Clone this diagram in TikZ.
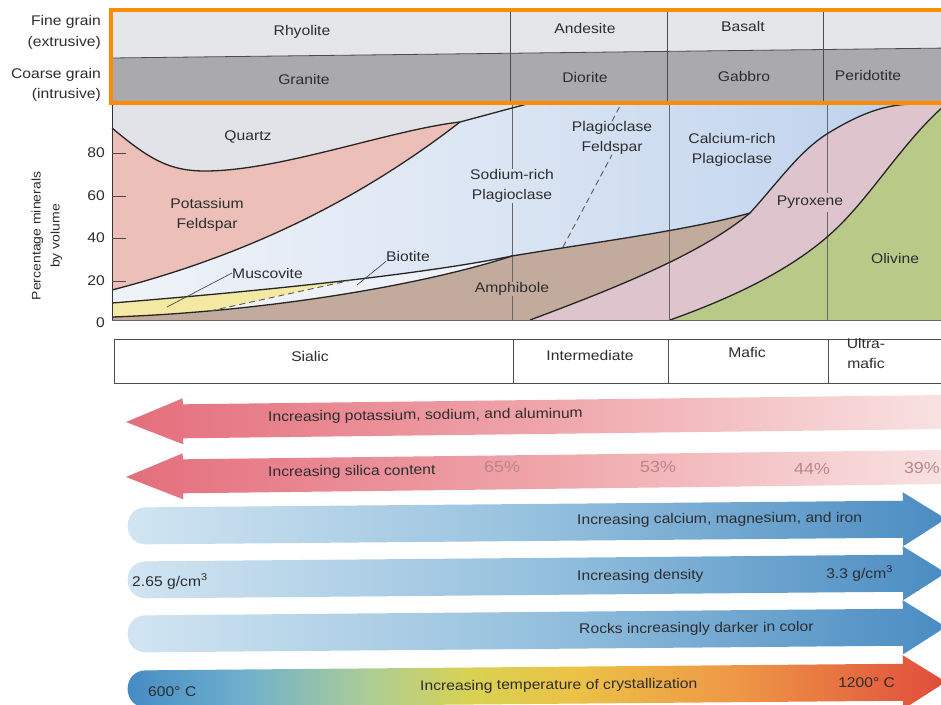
\documentclass[tikz,border=0pt]{standalone}
\usepackage{fontspec}
\setmainfont{Liberation Sans}[FakeStretch=1.12]
\usetikzlibrary{calc}

\definecolor{textc}{RGB}{45,45,48}
\definecolor{orangebox}{RGB}{255,140,0}
\definecolor{finegray}{RGB}{229,230,234}
\definecolor{coarsegray}{RGB}{170,170,174}
\definecolor{quartzgray}{RGB}{226,227,232}
\definecolor{kfeld}{RGB}{236,192,184}
\definecolor{plagL}{RGB}{240,243,249}
\definecolor{plagM}{RGB}{217,228,243}
\definecolor{plagR}{RGB}{186,207,236}
\definecolor{muscy}{RGB}{243,233,162}
\definecolor{biow}{RGB}{238,242,248}
\definecolor{amph}{RGB}{194,170,156}
\definecolor{pyrox}{RGB}{221,196,205}
\definecolor{olivg}{RGB}{185,201,136}
\definecolor{pct}{RGB}{188,134,138}
\definecolor{redL}{RGB}{228,110,124}
\definecolor{redM}{RGB}{239,165,170}
\definecolor{redR}{RGB}{249,228,228}
\definecolor{blueL}{RGB}{210,229,242}
\definecolor{blueM}{RGB}{150,193,222}
\definecolor{blueR}{RGB}{74,140,194}
\definecolor{heatA}{RGB}{66,138,196}
\definecolor{heatB}{RGB}{112,176,205}
\definecolor{heatC}{RGB}{172,205,150}
\definecolor{heatD}{RGB}{216,210,82}
\definecolor{heatE}{RGB}{236,194,70}
\definecolor{heatF}{RGB}{238,150,70}
\definecolor{heatG}{RGB}{224,76,60}

% the path box covers the middle half (25bp to 75bp) of a shading
\pgfdeclarehorizontalshading{plagfade}{100bp}{color(0bp)=(plagL); color(25bp)=(plagL); color(50bp)=(plagM); color(75bp)=(plagR); color(100bp)=(plagR)}
\pgfdeclarehorizontalshading{redfade}{100bp}{color(0bp)=(redL); color(25bp)=(redL); color(50bp)=(redM); color(75bp)=(redR); color(100bp)=(redR)}
\pgfdeclarehorizontalshading{bluefade}{100bp}{color(0bp)=(blueL); color(25bp)=(blueL); color(50bp)=(blueM); color(75bp)=(blueR); color(100bp)=(blueR)}
\pgfdeclarehorizontalshading{heatfade}{100bp}{color(0bp)=(heatA); color(25bp)=(heatA); color(32.5bp)=(heatB); color(40bp)=(heatC); color(46bp)=(heatD); color(52.5bp)=(heatE); color(62.5bp)=(heatF); color(75bp)=(heatG); color(100bp)=(heatG)}

\def\redarrow[#1](#2){\shade[#1, rotate around={0.7:(126,#2)}] (126,#2) -- (183,{#2-23}) -- (183,{#2-17}) -- (960,{#2-17}) -- (960,{#2+17}) -- (183,{#2+17}) -- (183,{#2+23}) -- cycle;}
\def\bluearrow[#1](#2){\shade[#1, rotate around={0.5:(128,#2)}] (946,#2) -- (903,{#2-27}) -- (903,{#2-18.5}) -- (146,{#2-18.5}) to[out=180,in=180,looseness=1.7] (146,{#2+18.5}) -- (903,{#2+18.5}) -- (903,{#2+27}) -- cycle;}

\tikzset{
  lbl/.style={font=\fontsize{14}{20}\selectfont, text=textc, inner sep=0pt, align=center},
  pctlbl/.style={font=\fontsize{16}{20}\selectfont, text=pct, inner sep=0pt},
  ylbl/.style={font=\fontsize{12.5}{19}\selectfont, text=textc, inner sep=0pt, align=center},
  rule/.style={line width=0.8pt, black!70},
  divider/.style={line width=0.7pt, black!60},
  curve/.style={line width=1.3pt, black!85, line join=round},
  dashline/.style={line width=0.9pt, black!65, dash pattern=on 6pt off 4pt},
  leader/.style={line width=0.7pt, black!70},
  tick/.style={line width=1pt, black!70}
}

\begin{document}
\begin{tikzpicture}[x=1pt,y=-1pt]
%%%%% START %%%%%
\useasboundingbox (0,0) rectangle (941,704);

% rock names
\fill[finegray] (112,12) -- (950,12) -- (950,48) -- (112,58) -- cycle;
\fill[coarsegray] (112,58) -- (950,48) -- (950,103) -- (112,103) -- cycle;
\draw[rule] (112,58) -- (950,48);
\draw[rule] (510,12) -- (510,103);
\draw[rule] (667,12) -- (667,103);
\draw[rule] (823,12) -- (823,103);
\node[lbl] (rhyolite) at (302,32) {Rhyolite};
\node[lbl] (andesite) at (585,28) {Andesite};
\node[lbl] (basalt) at (743,26) {Basalt};
\node[lbl] (granite) at (304,79) {Granite};
\node[lbl] (diorite) at (585,77) {Diorite};
\node[lbl] (gabbro) at (744,76) {Gabbro};
\node[lbl] (peridotite) at (868,75) {Peridotite};
\node[lbl, anchor=east, align=right, font=\fontsize{14}{21}\selectfont] (finelbl) at (101,32) {Fine grain\\(extrusive)};
\node[lbl, anchor=east, align=right] (coarselbl) at (101,85) {Coarse grain\\(intrusive)};

% mineral areas
\shade[shading=plagfade] (112,104) rectangle (945,320);
\fill[quartzgray] (112,104) -- (112,128) .. controls (150,160) and (170,171) .. (205,171) .. controls (280,171) and (390,130) .. (460,122) -- (527,104) -- cycle;
\fill[kfeld] (112,128) .. controls (150,160) and (170,171) .. (205,171) .. controls (280,171) and (390,130) .. (460,122) .. controls (340,215) and (220,262) .. (112,290) -- cycle;
\fill[muscy] (112,317) .. controls (260,312) and (420,286) .. (512,256) .. controls (420,275) and (250,292) .. (112,303) -- cycle;
\begin{scope}
  \clip (100,335) -- (600,226) -- (600,340) -- (100,340) -- cycle;
  \fill[biow] (112,317) .. controls (260,312) and (420,286) .. (512,256) .. controls (420,275) and (250,292) .. (112,303) -- cycle;
\end{scope}
\fill[amph] (112,317) .. controls (260,312) and (420,286) .. (512,256) .. controls (590,243) and (690,230) .. (750,213) .. controls (700,255) and (610,290) .. (530,320) -- (112,320) -- cycle;
\fill[pyrox] (530,320) .. controls (610,290) and (700,255) .. (750,213) .. controls (780,180) and (800,150) .. (830,132) .. controls (860,114) and (885,104) .. (915,104) -- (945,104) -- (945,105) .. controls (905,140) and (875,190) .. (840,225) .. controls (800,265) and (740,295) .. (670,320) -- cycle;
\fill[olivg] (670,320) .. controls (740,295) and (800,265) .. (840,225) .. controls (875,190) and (905,140) .. (945,105) -- (945,320) -- cycle;

% mineral labels
\node[lbl] (quartz) at (248,137) {Quartz};
\node[lbl] (kfeldlbl) at (207,215) {Potassium\\Feldspar};
\node[lbl, anchor=west] (musc) at (232,273) {Muscovite};
\node[lbl] (bio) at (408,256) {Biotite};
\node[lbl] (sodium) at (512,186) {Sodium-rich\\Plagioclase};
\node[lbl] (plagfs) at (612,138) {Plagioclase\\Feldspar};
\node[lbl] (carich) at (732,150) {Calcium-rich\\Plagioclase};
\node[lbl] (pyroxlbl) at (810,202) {Pyroxene};
\node[lbl] (olivine) at (895,258) {Olivine};
\node[lbl] (amphib) at (512,289) {Amphibole};

% column lines
\draw[divider] (512,104) -- (sodium.north);
\draw[divider] (sodium.south) -- (amphib.north);
\draw[divider] (amphib.south) -- (512,320);
\draw[divider] (669,104) -- (669,320);
\draw[divider] (827,104) -- (827,193);
\draw[divider] (827,212) -- (827,320);

% boundaries
\draw[curve] (112,128) .. controls (150,160) and (170,171) .. (205,171) .. controls (280,171) and (390,130) .. (460,122) -- (527,104);
\draw[curve] (112,290) .. controls (220,262) and (340,215) .. (460,122);
\draw[curve] (112,303) .. controls (250,292) and (420,275) .. (512,256) .. controls (590,243) and (690,230) .. (750,213);
\draw[curve] (112,317) .. controls (260,312) and (420,286) .. (512,256);
\draw[curve] (530,320) .. controls (610,290) and (700,255) .. (750,213) .. controls (780,180) and (800,150) .. (830,132) .. controls (860,114) and (885,104) .. (915,104);
\draw[curve] (670,320) .. controls (740,295) and (800,265) .. (840,225) .. controls (875,190) and (905,140) .. (945,105);

\coordinate (dA) at (210,311);
\coordinate (dB) at (352,280);
\draw[dashline] (dA) -- (dB);
\coordinate (pA) at (563,247);
\coordinate (pB) at (621,104);
\draw[dashline] (pA) -- (plagfs.south);
\draw[dashline] (plagfs.north) -- (pB);

\coordinate (muscpt) at (167,307);
\draw[leader] (muscpt) -- (musc.west);
\coordinate (biopt) at (357,285);
\draw[leader] (biopt) -- (bio.south west);

% axis
\draw[line width=1pt, black!80] (112,104) -- (112,320);
\draw[line width=0.8pt, black!60] (112,320) -- (945,320);
\foreach \y/\v in {153/80,196/60,238/40,281/20} {
  \draw[tick] (112,\y) -- (126,\y);
  \node[lbl, anchor=east] (t\v) at (105,\y) {\v};
}
\node[lbl, anchor=east] (t0) at (105,323) {0};
\node[ylbl, rotate=90] (ylab) at (47,236) {Percentage minerals\\by volume};

% frame
\draw[orangebox, line width=4pt] (111,10) rectangle (950,103);

% rock types
\draw[rule, fill=white] (114,339) rectangle (950,383);
\draw[rule] (513,339) -- (513,383);
\draw[rule] (668,339) -- (668,383);
\draw[rule] (828,339) -- (828,383);
\node[lbl] (sialic) at (310,356) {Sialic};
\node[lbl] (interm) at (590,355) {Intermediate};
\node[lbl] (mafic) at (747,352) {Mafic};
\node[lbl] (ultramafic) at (866,353) {Ultra-\\mafic};

% trends
\redarrow[shading=redfade](422)
\redarrow[shading=redfade](477)
\node[lbl, anchor=west, rotate=0.7] (potsod) at (268,418) {Increasing potassium, sodium, and aluminum};
\node[lbl, anchor=west, rotate=0.7] (silica) at (268,473) {Increasing silica content};
\node[pctlbl, rotate=0.7] (p65) at (502,467) {65\%};
\node[pctlbl, rotate=0.7] (p53) at (658,467) {53\%};
\node[pctlbl, rotate=0.7] (p44) at (812,469) {44\%};
\node[pctlbl, rotate=0.7, anchor=east] (p39) at (940,468) {39\%};

\bluearrow[shading=bluefade](526)
\bluearrow[shading=bluefade](580)
\bluearrow[shading=bluefade](634)
\bluearrow[shading=heatfade](689)
\node[lbl, anchor=west, rotate=0.5] (camgfe) at (577,521) {Increasing calcium, magnesium, and iron};
\node[lbl, anchor=west, rotate=0.5] (d265) at (132,582) {2.65 g/cm\textsuperscript{3}};
\node[lbl, anchor=west, rotate=0.5] (dens) at (577,577) {Increasing density};
\node[lbl, anchor=west, rotate=0.5] (d33) at (826,574) {3.3 g/cm\textsuperscript{3}};
\node[lbl, anchor=west, rotate=0.5] (darker) at (579,630) {Rocks increasingly darker in color};
\node[lbl, anchor=west, rotate=0.5] (t600) at (148,692) {600° C};
\node[lbl, anchor=west, rotate=0.5] (temp) at (420,687) {Increasing temperature of crystallization};
\node[lbl, anchor=west, rotate=0.5] (t1200) at (838,683) {1200° C};
%%%%% END %%%%%
\end{tikzpicture}
\end{document}
